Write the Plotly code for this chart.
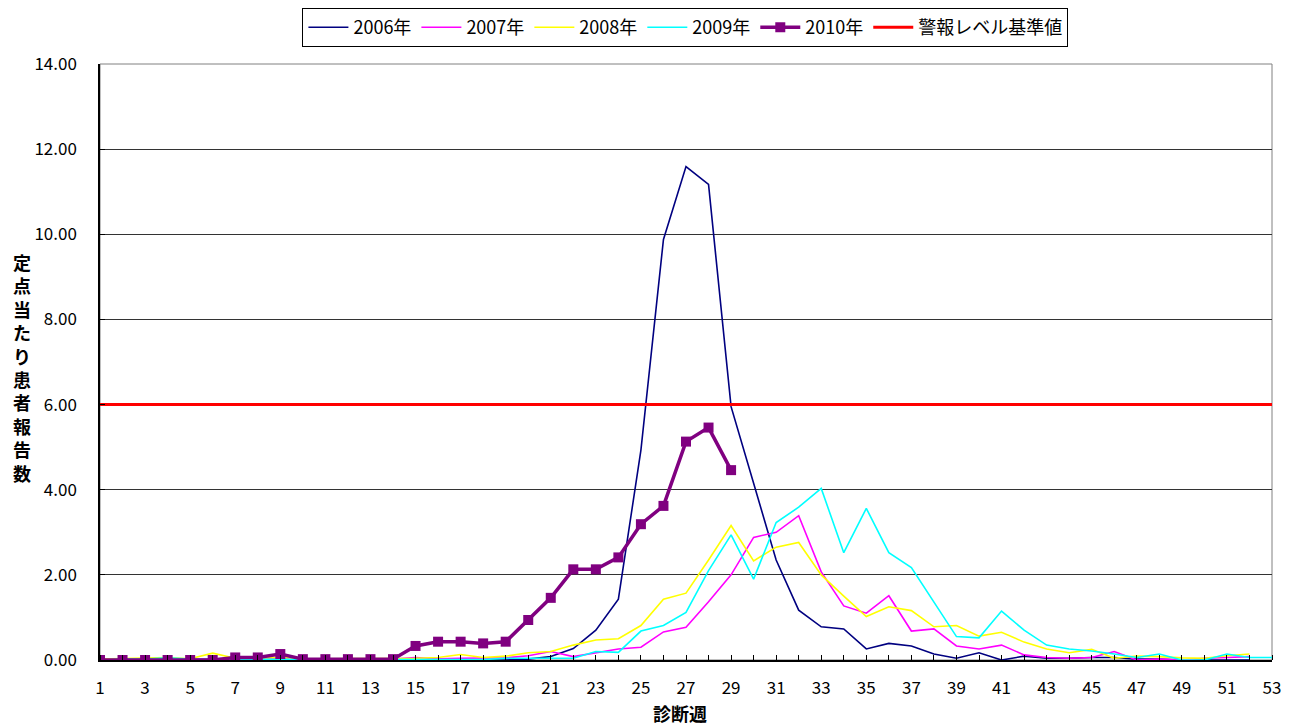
import plotly.graph_objects as go

weeks = list(range(1, 54))
x_tick_labels = [str(w) for w in range(1, 54, 2)]
y_tick_values = [0, 2, 4, 6, 8, 10, 12, 14]

y2006 = [0, 0, 0, 0, 0, 0, 0, 0, 0, 0, 0, 0, 0, 0, 0, 0, 0, 0, 0, 0.02,
         0.08, 0.27, 0.70, 1.43, 4.93, 9.88, 11.59, 11.17, 5.95, 4.15,
         2.35, 1.17, 0.78, 0.73, 0.26, 0.39, 0.33, 0.14, 0.04, 0.17,
         0.00, 0.09, 0.04, 0.04, 0.06, 0.06, 0.02, 0.02, 0.00, 0.00, 0.00, 0.00]
y2007 = [0.02, 0.02, 0.03, 0.02, 0.02, 0.03, 0.02, 0.03, 0.05, 0.02,
         0.02, 0.02, 0.03, 0.02, 0.06, 0.03, 0.04, 0.04, 0.05, 0.10,
         0.20, 0.08, 0.17, 0.26, 0.30, 0.66, 0.77, 1.37, 2.00, 2.88,
         3.00, 3.39, 2.07, 1.27, 1.10, 1.51, 0.68, 0.73, 0.33, 0.26,
         0.35, 0.12, 0.06, 0.04, 0.06, 0.20, 0.00, 0.02, 0.00, 0.04, 0.06, 0.08]
y2008 = [0.02, 0.03, 0.04, 0.06, 0.03, 0.16, 0.04, 0.04, 0.06, 0.03,
         0.03, 0.03, 0.03, 0.03, 0.04, 0.06, 0.13, 0.06, 0.09, 0.17,
         0.20, 0.35, 0.47, 0.50, 0.81, 1.43, 1.57, 2.35, 3.16, 2.33,
         2.65, 2.76, 2.00, 1.50, 1.02, 1.25, 1.16, 0.78, 0.81, 0.56,
         0.65, 0.42, 0.26, 0.17, 0.25, 0.04, 0.09, 0.08, 0.05, 0.04, 0.10, 0.14]
y2009 = [0.00, 0.02, 0.02, 0.05, 0.02, 0.02, 0.02, 0.02, 0.02, 0.02,
         0.02, 0.01, 0.01, 0.01, 0.01, 0.01, 0.01, 0.01, 0.04, 0.04,
         0.04, 0.04, 0.20, 0.18, 0.68, 0.81, 1.12, 2.10, 2.94, 1.90,
         3.23, 3.59, 4.03, 2.52, 3.56, 2.52, 2.17, 1.37, 0.55, 0.52,
         1.15, 0.70, 0.35, 0.26, 0.21, 0.14, 0.06, 0.14, 0.00, 0.00,
         0.14, 0.06, 0.06]
y2010 = [0, 0, 0, 0, 0, 0, 0.06, 0.06, 0.14, 0.02, 0.02, 0.02, 0.02, 0.02,
         0.33, 0.43, 0.43, 0.39, 0.43, 0.94, 1.46, 2.13, 2.13, 2.41, 3.19,
         3.62, 5.13, 5.46, 4.46]
alarm_level = [6.0] * 53

y_title = "定点当たり患者報告数"
x_title = "診断週"

FONT = "Noto Sans CJK JP"

fig = go.Figure()
series = [
    ("2006年", y2006, "#000080", 1.6),
    ("2007年", y2007, "#FF00FF", 1.6),
    ("2008年", y2008, "#FFFF00", 1.6),
    ("2009年", y2009, "#00FFFF", 1.6),
]
for name, ys, color, width in series:
    fig.add_trace(go.Scatter(x=weeks[:len(ys)], y=ys, name=name, mode="lines",
                             line=dict(color=color, width=width)))
fig.add_trace(go.Scatter(x=weeks[:len(y2010)], y=y2010, name="2010年", mode="lines+markers",
                         line=dict(color="#800080", width=3.5),
                         marker=dict(symbol="square", size=10, color="#800080")))
fig.add_trace(go.Scatter(x=weeks, y=alarm_level, name="警報レベル基準値", mode="lines",
                         line=dict(color="#FF0000", width=3)))

# page body has an 8px offset; margins compensate so the plot area sits at x 100-1272, y 64-660
fig.update_layout(
    width=1295, height=724,
    margin=dict(l=92, r=31, t=56, b=72, autoexpand=False),
    paper_bgcolor="white", plot_bgcolor="white",
    font=dict(family=FONT, size=17, color="black"),
    showlegend=True,
    legend=dict(orientation="h", x=0.4995, xanchor="center", y=1.094, yanchor="top",
                bordercolor="black", borderwidth=1, bgcolor="white",
                font=dict(size=18), itemwidth=40, tracegroupgap=0),
    xaxis=dict(range=[1, 53], tickmode="array", tickvals=list(range(1, 54, 2)),
               ticktext=x_tick_labels, showgrid=False, zeroline=False,
               showline=True, linecolor="black", linewidth=1.5,
               ticks="", ticklabelstandoff=12, automargin=False,
               minor=dict(ticks="inside", ticklen=5, tickcolor="black", dtick=1, tick0=1, showgrid=False),
               tickfont=dict(size=17)),
    yaxis=dict(range=[0, 14], tickvals=y_tick_values,
               ticktext=[f"{v:.2f}" for v in y_tick_values],
               showgrid=True, gridcolor="#333333", gridwidth=1, zeroline=False,
               showline=True, linecolor="black", linewidth=1.5,
               ticks="inside", ticklen=5, tickcolor="black", automargin=False,
               ticklabelstandoff=18, tickfont=dict(size=17)),
)
fig.add_shape(type="rect", xref="paper", yref="paper", x0=0, x1=1, y0=0, y1=1,
              line=dict(color="#808080", width=1), layer="below")

plot_top, plot_h, plot_w = 64, 596, 1172
fig.add_annotation(text="<b>" + "<br>".join(list(y_title)) + "</b>", xref="paper", yref="paper",
                   x=(22 - 100) / plot_w, y=1 - (367 - plot_top) / plot_h,
                   xanchor="center", yanchor="middle", showarrow=False,
                   font=dict(size=18, family=FONT, color="black"))
fig.add_annotation(text=f"<b>{x_title}</b>", xref="paper", yref="paper",
                   x=(680 - 100) / plot_w, y=-(713 - 660) / plot_h,
                   xanchor="center", yanchor="middle", showarrow=False,
                   font=dict(size=18, family=FONT, color="black"))

fig.write_html("out.html")
